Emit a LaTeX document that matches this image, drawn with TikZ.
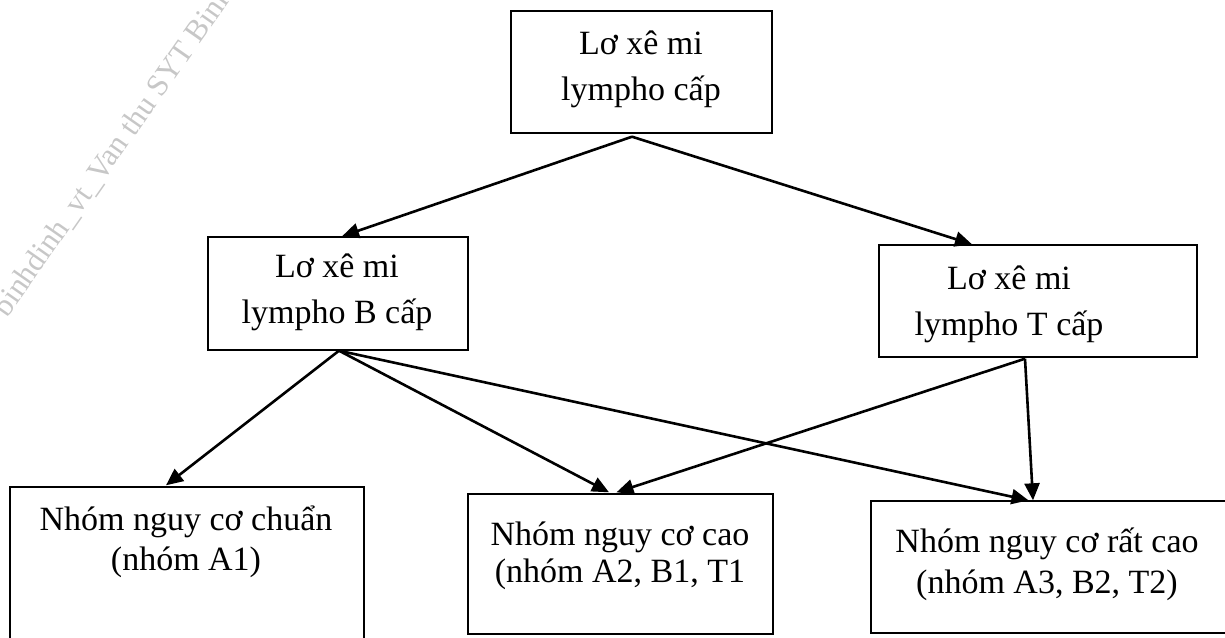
\documentclass[tikz,border=0pt]{standalone}
\usepackage{fontspec}
\setmainfont{Liberation Serif}
\usetikzlibrary{arrows.meta,calc}

\begin{document}
\begin{tikzpicture}[x=0.5pt,y=-0.5pt,
  box/.style={draw, line width=0.7pt, inner sep=0pt},
  txt/.style={align=center, anchor=base, inner sep=0pt, font=\fontsize{17}{#1}\selectfont},
  txt/.default=23,
  link/.style={line width=1.3pt, -{Triangle[length=8.5pt,width=7.5pt]}},
  wm/.style={text=black!22, font=\fontsize{15.5}{17}\selectfont, inner sep=0pt}]
\useasboundingbox (0,0) rectangle (1225,637);

% watermark stamp
\node[wm, rotate=55, anchor=base west] (stamp) at (7,319) {binhdinh\_vt\_Van thu SYT Binh};

% boxes
\node[box, minimum width=130.5pt, minimum height=61pt]  (top) at (641.5,72)   {};
\node[box, minimum width=130pt,   minimum height=56.5pt] (bc)  at (338,293.5)  {};
\node[box, minimum width=159pt,   minimum height=56pt]   (tc)  at (1038,301)   {};
\node[box, minimum width=177pt,   minimum height=86.5pt] (std) at (187,573.5)  {};
\node[box, minimum width=152.5pt, minimum height=70pt]   (hi)  at (620.5,564)  {};
\node[box, minimum width=184.5pt, minimum height=66pt]   (vhi) at (1055.5,567) {};

% box texts (anchored at the baseline of the last line)
\node[txt] (topt) at (641,100)  {Lơ xê mi\\lympho cấp};
\node[txt] (bct)  at (337,323) {Lơ xê mi\\lympho B cấp};
\node[txt] (tct)  at (1009,335) {Lơ xê mi\\lympho T cấp};
\node[txt=20]   (stdt) at (186,570)  {Nhóm nguy cơ chuẩn\\(nhóm A1)};
\node[txt=18.5] (hit)  at (620,582)  {Nhóm nguy cơ cao\\(nhóm A2, B1, T1};
\node[txt=20.5] (vhit) at (1047,593) {Nhóm nguy cơ rất cao\\(nhóm A3, B2, T2)};

% connectors
\draw[link] ($(top.south)+(-9.5,3)$) -- ($(bc.north)+(4,0)$);
\draw[link] ($(top.south)+(-9.5,3)$) -- ($(tc.north)+(-66,0)$);
\draw[link] ($(bc.south)+(1,0)$) -- ($(std.north)+(-21,-1)$);
\draw[link] ($(bc.south)+(1,0)$) -- ($(hi.north)+(-11.5,-1)$);
\draw[link] ($(bc.south)+(1,0)$) -- ($(vhi.north)+(-27,0)$);
\draw[link] ($(tc.south)+(-13,1)$) -- ($(hi.north)+(-4,-1)$);
\draw[link] ($(tc.south)+(-13,1)$) -- ($(vhi.north)+(-22.5,0)$);
\end{tikzpicture}
\end{document}
